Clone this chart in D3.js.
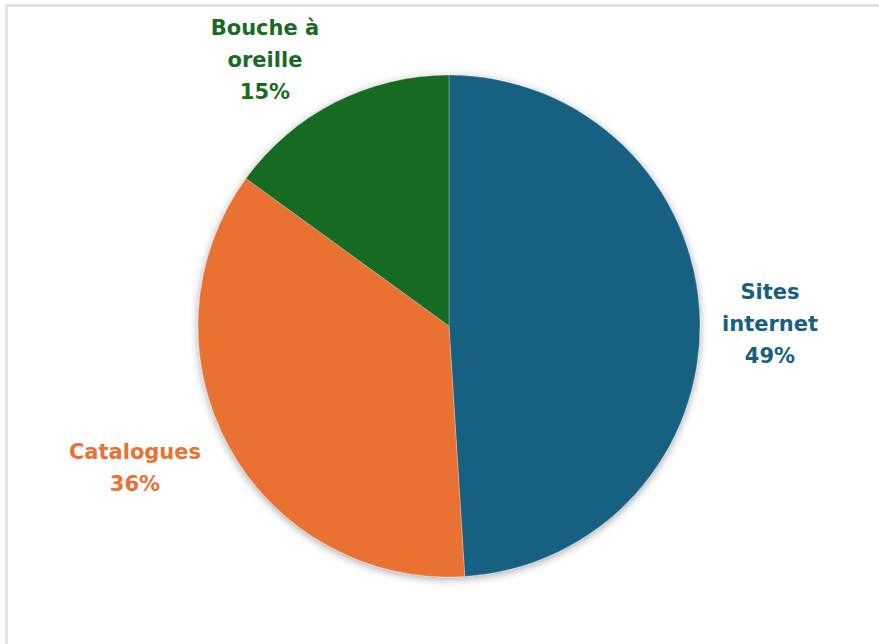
<!DOCTYPE html>
<html>
<head>
<meta charset="utf-8">
<script src="https://cdn.jsdelivr.net/npm/d3@7"></script>
<style>
  html, body { margin: 0; padding: 0; background: #fff; }
  svg { display: block; }
</style>
</head>
<body>
<svg id="chart" width="879" height="644"></svg>
<script>
// Sources d'information
const categories = ["Sites internet", "Catalogues", "Bouche à oreille"];
const values = [49, 36, 15];
const labelLines = [["Sites", "internet"], ["Catalogues"], ["Bouche à", "oreille"]];
const colors = ["#156082", "#E97132", "#196B24"];

const svg = d3.select("#chart");
const width = 879, height = 644;
const cx = 449, cy = 326, radius = 251;

// chart frame
svg.append("rect")
  .attr("x", 6.5).attr("y", 5.5)
  .attr("width", 920).attr("height", 700)
  .attr("fill", "#fff")
  .attr("stroke", "#d9d9d9")
  .attr("stroke-width", 2);

// soft shadow under the pie
const defs = svg.append("defs");
const f = defs.append("filter").attr("id", "shadow")
  .attr("x", "-20%").attr("y", "-20%").attr("width", "140%").attr("height", "140%");
f.append("feGaussianBlur").attr("in", "SourceAlpha").attr("stdDeviation", 4).attr("result", "b");
f.append("feOffset").attr("in", "b").attr("dx", 0).attr("dy", 2).attr("result", "o");
f.append("feComponentTransfer").attr("in", "o").attr("result", "s")
  .append("feFuncA").attr("type", "linear").attr("slope", 0.35);
const m = f.append("feMerge");
m.append("feMergeNode").attr("in", "s");
m.append("feMergeNode").attr("in", "SourceGraphic");

const data = categories.map((c, i) => ({ cat: c, value: values[i], lines: labelLines[i], color: colors[i] }));

const pie = d3.pie().value(d => d.value).sort(null);
const arcs = pie(data);
const arc = d3.arc().innerRadius(0).outerRadius(radius);

const g = svg.append("g").attr("transform", `translate(${cx},${cy})`);
g.append("g").attr("filter", "url(#shadow)")
  .selectAll("path")
  .data(arcs)
  .join("path")
  .attr("d", arc)
  .attr("fill", d => d.data.color)
  .attr("stroke", "#ffffff")
  .attr("stroke-opacity", 0.35)
  .attr("stroke-width", 0.75);

// outside data labels
const labelPos = [
  [770, 323],   // Sites internet
  [135, 467],   // Catalogues
  [265, 59]     // Bouche à oreille
];
const lineH = 32;
const labels = svg.append("g")
  .style("font-family", "'DejaVu Sans', Verdana, sans-serif")
  .style("font-weight", "700")
  .style("font-size", "21px");

arcs.forEach((a, i) => {
  const lines = a.data.lines.concat([d3.format(".0f")(a.data.value) + "%"]);
  const [lx, ly] = labelPos[i];
  const top = ly - (lines.length - 1) * lineH / 2;
  const t = labels.append("text")
    .attr("text-anchor", "middle")
    .attr("fill", a.data.color);
  lines.forEach((ln, j) => {
    t.append("tspan")
      .attr("x", lx)
      .attr("y", top + j * lineH)
      .attr("dy", "0.36em")
      .text(ln);
  });
});
</script>
</body>
</html>
